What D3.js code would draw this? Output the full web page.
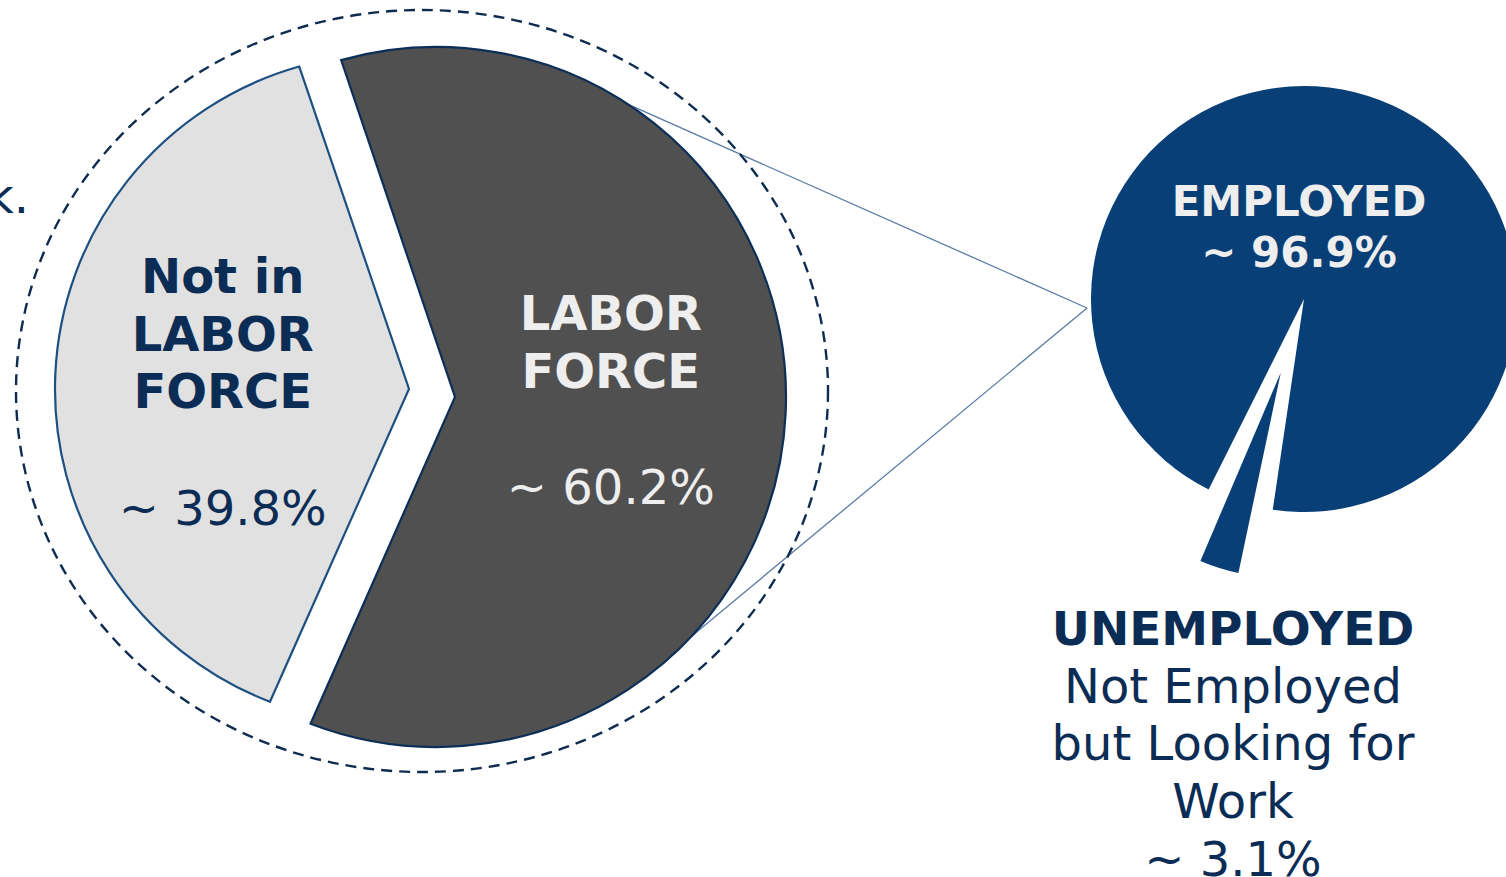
<!DOCTYPE html>
<html>
<head>
<meta charset="utf-8">
<script src="https://cdn.jsdelivr.net/npm/d3@7"></script>
<style>
  body { margin: 0; background: #fff; overflow: hidden; }
  svg { display: block; font-family: "DejaVu Sans", Verdana, sans-serif; }
</style>
</head>
<body>
<div id="chart"></div>
<script>
// Shares.
const laborKeys = ["notInLabor", "labor"];
const laborShares = [39.8, 60.2];
const laborTitles = [["Not in", "LABOR", "FORCE"], ["LABOR", "FORCE"]];
const laborPct = ["~ 39.8%", "~ 60.2%"];

const employKeys = ["employed", "unemployed"];
const employShares = [96.9, 3.1];
const employedLines = ["EMPLOYED", "~ 96.9%"];
const unemployedLines = ["UNEMPLOYED", "Not Employed", "but Looking for", "Work", "~ 3.1%"];

// Dimensions of chart.
const width = 1506;
const height = 877;
const deg = Math.PI / 180;
const navy = "#0b2d55";

// Left pie layout (dashed ring + two exploded chevron slices).
const left = { cx: 422, cy: 391, ringRx: 406, ringRy: 381 };
const laborStyle = [
  { fill: "#e1e1e1", stroke: "#1d4f82", r: 335, dx: -32, dy: -2, text: navy },
  { fill: "#505050", stroke: "#0d2f57", r: 350, dx: 14, dy: 6, text: "#eeeeee" }
];
const tipShift = 19;   // chevron point, px to the right of each slice centre
const lineGap = 57.5;  // label line spacing

// Right pie layout.
const right = { cx: 1304, cy: 299, r: 213 };
const wedgeR = 205;
const wedgeOut = 77;

const svg = d3.select("#chart").append("svg")
  .attr("width", width)
  .attr("height", height);

// Pie angles from the shares.
const laborArcs = d3.pie().sort(null).value(d => d)
  .startAngle(-159 * deg).endAngle(201 * deg)(laborShares);

const employArcs = d3.pie().sort(null).value(d => d)
  .startAngle(203.1 * deg).endAngle(203.1 * deg + 2 * Math.PI)(employShares);

const slices = laborArcs.map((a, i) => {
  const s = laborStyle[i];
  const cx = left.cx + s.dx, cy = left.cy + s.dy;
  return { a, s, cx, cy, mid: (a.startAngle + a.endAngle) / 2 };
});

// Zoom connector: from the labor force slice to the right pie.
const focus = [right.cx - right.r - 4, right.cy + 9];
const dark = slices[1];
svg.append("g")
  .selectAll("line")
  .data([33.3, 133.1])
  .join("line")
  .attr("x1", d => dark.cx + dark.s.r * Math.sin(d * deg))
  .attr("y1", d => dark.cy - dark.s.r * Math.cos(d * deg))
  .attr("x2", focus[0])
  .attr("y2", focus[1])
  .attr("stroke", "#5a7ca4")
  .attr("stroke-width", 1.3);

// Dashed ring.
svg.append("ellipse")
  .attr("cx", left.cx)
  .attr("cy", left.cy)
  .attr("rx", left.ringRx)
  .attr("ry", left.ringRy)
  .attr("fill", "none")
  .attr("stroke", "#0e2c50")
  .attr("stroke-width", 2.4)
  .attr("stroke-dasharray", "11 7");

function chevronSlice(d) {
  const { a, s, cx, cy } = d;
  const p = d3.path();
  p.moveTo(cx + s.r * Math.sin(a.startAngle), cy - s.r * Math.cos(a.startAngle));
  p.arc(cx, cy, s.r, a.startAngle - Math.PI / 2, a.endAngle - Math.PI / 2, false);
  p.lineTo(cx + tipShift, cy);
  p.closePath();
  return p.toString();
}

svg.append("g")
  .selectAll("path")
  .data(slices)
  .join("path")
  .attr("d", chevronSlice)
  .attr("fill", d => d.s.fill)
  .attr("stroke", d => d.s.stroke)
  .attr("stroke-width", 2.2)
  .attr("stroke-linejoin", "miter");

// Slice labels
slices.forEach((d, i) => {
  const x = d.cx + d.s.r * 0.5 * Math.sin(d.mid);
  const titles = laborTitles[i];
  const blockH = (titles.length - 1) * lineGap + 116.5;
  const top = d.cy + 20 - blockH / 2;
  const g = svg.append("g").attr("fill", d.s.text).attr("text-anchor", "middle");
  g.selectAll("text.t")
    .data(titles)
    .join("text")
    .attr("class", "t")
    .attr("x", x)
    .attr("y", (t, j) => top + j * lineGap)
    .attr("font-size", 48)
    .attr("font-weight", "bold")
    .text(t => t);
  g.append("text")
    .attr("x", x)
    .attr("y", top + blockH)
    .attr("font-size", 48)
    .text(laborPct[i]);
});

// Right pie: employed with a padded gap, unemployed pulled out.
const employedArc = d3.arc().innerRadius(0).outerRadius(right.r).padAngle(7 * deg);
const wedgeArc = d3.arc().innerRadius(0).outerRadius(wedgeR);

const rg = svg.append("g").attr("transform", `translate(${right.cx},${right.cy})`);
rg.selectAll("path")
  .data(employArcs)
  .join("path")
  .attr("d", (d, i) => i === 0 ? employedArc(d) : wedgeArc(d))
  .attr("transform", (d, i) => {
    if (i === 0) return null;
    const m = (d.startAngle + d.endAngle) / 2;
    return `translate(${wedgeOut * Math.sin(m)},${-wedgeOut * Math.cos(m)})`;
  })
  .attr("fill", "#083f76");

// Employed label
svg.append("g")
  .attr("fill", "#eeeeee")
  .attr("text-anchor", "middle")
  .attr("font-weight", "bold")
  .attr("font-size", 42)
  .selectAll("text")
  .data(employedLines)
  .join("text")
  .attr("x", right.cx - 5)
  .attr("y", (t, j) => right.cy - 83 + j * 51)
  .text(t => t);

// Unemployed label
svg.append("g")
  .attr("fill", navy)
  .attr("text-anchor", "middle")
  .selectAll("text")
  .data(unemployedLines)
  .join("text")
  .attr("x", right.cx - 71)
  .attr("y", (t, j) => right.cy + 346 + j * 57.7)
  .attr("font-weight", (t, j) => j === 0 ? "bold" : null)
  .attr("font-size", (t, j) => j === 0 ? 47 : 48)
  .text(t => t);

// Tail of a sentence cut off at the left edge.
svg.append("text")
  .attr("x", 29)
  .attr("y", 213)
  .attr("text-anchor", "end")
  .attr("font-size", 48)
  .attr("fill", navy)
  .text("k.");
</script>
</body>
</html>
